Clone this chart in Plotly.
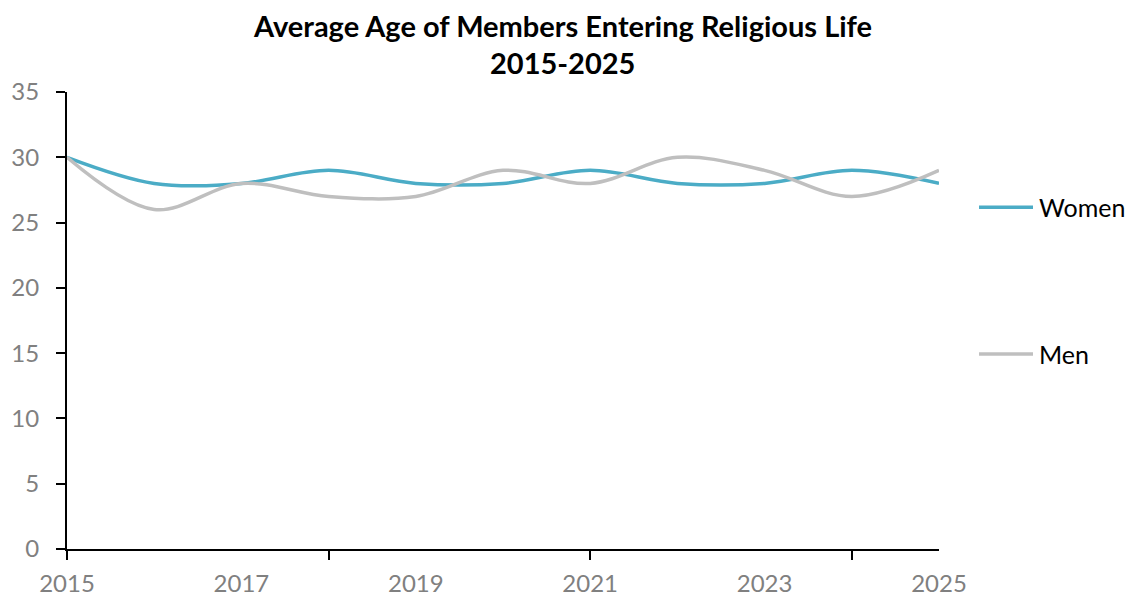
import plotly.graph_objects as go

years = [2015, 2016, 2017, 2018, 2019, 2020, 2021, 2022, 2023, 2024, 2025]
women = [30, 28, 28, 29, 28, 28, 29, 28, 28, 29, 28]
men = [30, 26, 28, 27, 27, 29, 28, 30, 29, 27, 29]

label_years = [2015, 2017, 2019, 2021, 2023, 2025]
tick_years = [2015, 2018, 2021, 2024]
y_ticks = [0, 5, 10, 15, 20, 25, 30, 35]

series = [("Women", women, "#4BACC6"), ("Men", men, "#BFBFBF")]

FONT = "Lato, 'Open Sans', sans-serif"
GRAY = "#808080"

fig = go.Figure()
for name, vals, color in series:
    fig.add_trace(go.Scatter(
        x=years, y=vals, name=name, mode="lines",
        line=dict(color=color, width=3.5, shape="spline", smoothing=1),
        showlegend=False,
    ))
# invisible trace carrying the secondary x axis (tick marks only)
fig.add_trace(go.Scatter(x=[2015], y=[0], xaxis="x2", mode="markers",
                         marker=dict(opacity=0), showlegend=False, hoverinfo="skip"))

# title, two centered lines
fig.add_annotation(text="<b>Average Age of Members Entering Religious Life</b>",
                   xref="paper", yref="paper", x=0.5677, y=1.1466,
                   xanchor="center", yanchor="middle", showarrow=False,
                   font=dict(family=FONT, size=29, color="black"))
fig.add_annotation(text="<b>2015-2025</b>",
                   xref="paper", yref="paper", x=0.5677, y=1.0635,
                   xanchor="center", yanchor="middle", showarrow=False,
                   font=dict(family=FONT, size=29, color="black"))

# legend on the right: line sample + label
legend_y = [0.748, 0.4267]
for (name, _, color), ly in zip(series, legend_y):
    fig.add_shape(type="line", xref="paper", yref="paper",
                  x0=1.0459, x1=1.1078, y0=ly, y1=ly,
                  line=dict(color=color, width=3.5))
    fig.add_annotation(text=name, xref="paper", yref="paper",
                       x=1.1125, y=ly, xanchor="left", yanchor="middle",
                       showarrow=False,
                       font=dict(family=FONT, size=25, color="black"))

fig.update_layout(
    width=1136, height=600,
    margin=dict(l=67, r=197, t=92, b=51, autoexpand=False),
    paper_bgcolor="white", plot_bgcolor="white",
    font=dict(family=FONT, size=24, color=GRAY),
    showlegend=False,
    xaxis=dict(
        range=[2015, 2025], tickmode="array", tickvals=label_years,
        ticktext=[str(v) for v in label_years],
        ticks="", showgrid=False, zeroline=False, automargin=False,
        showline=True, linecolor="black", linewidth=2,
        tickfont=dict(family=FONT, size=24, color=GRAY),
        ticklabelstandoff=12,
    ),
    xaxis2=dict(
        range=[2015, 2025], overlaying="x", side="bottom",
        tickmode="array", tickvals=tick_years, showticklabels=False,
        ticks="outside", ticklen=10, tickwidth=2, tickcolor="black",
        showgrid=False, zeroline=False, showline=False, automargin=False,
    ),
    yaxis=dict(
        range=[0, 35], tickmode="array", tickvals=y_ticks,
        ticks="outside", ticklen=9, tickwidth=2, tickcolor="black",
        showgrid=False, zeroline=False, automargin=False,
        showline=True, linecolor="black", linewidth=2,
        tickfont=dict(family=FONT, size=24, color=GRAY),
        ticklabelstandoff=12,
    ),
)

fig.write_html("out.html")
